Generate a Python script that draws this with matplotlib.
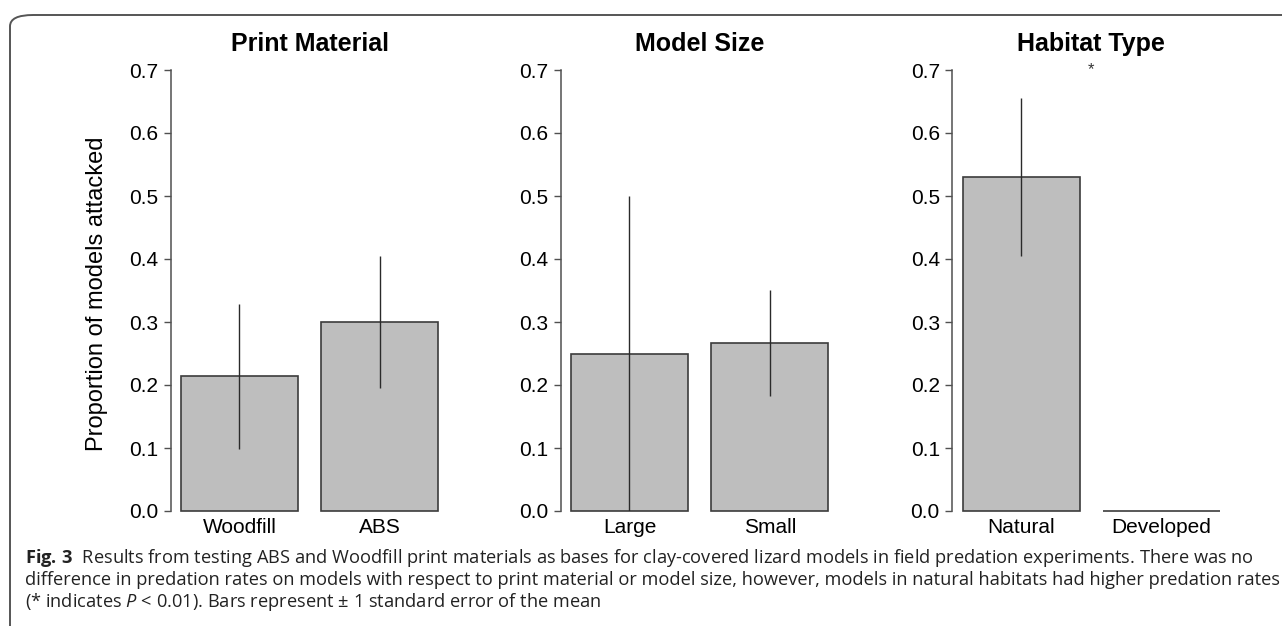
import matplotlib
matplotlib.use("Agg")
import matplotlib.pyplot as plt
from matplotlib import font_manager
from matplotlib.patches import FancyBboxPatch

# data
material_labels = ["Woodfill", "ABS"]
material_means = [0.214, 0.300]
material_se = [0.115, 0.105]

size_labels = ["Large", "Small"]
size_means = [0.250, 0.267]
size_se = [0.250, 0.084]

habitat_labels = ["Natural", "Developed"]
habitat_means = [0.530, 0.0]
habitat_se = [0.125, 0.0]

titles = ["Print Material", "Model Size", "Habitat Type"]
yticks = [0.0, 0.1, 0.2, 0.3, 0.4, 0.5, 0.6, 0.7]

caption_lines = [
    r"$\mathbf{Fig.\,3}$  Results from testing ABS and Woodfill print materials as bases for clay-covered lizard models in field predation experiments. There was no",
    "difference in predation rates on models with respect to print material or model size, however, models in natural habitats had higher predation rates",
    r"(* indicates $\mathit{P}$ < 0.01). Bars represent $\pm$ 1 standard error of the mean",
]

installed = {f.name for f in font_manager.fontManager.ttflist}
cap_font = "DejaVu Sans"
for name in ["Open Sans", "Noto Sans", "Lato"]:
    if name in installed:
        cap_font = name
        break

plt.rcParams["font.family"] = ["Liberation Sans", "DejaVu Sans"]
plt.rcParams["mathtext.fontset"] = "custom"
plt.rcParams["mathtext.rm"] = cap_font
plt.rcParams["mathtext.it"] = cap_font + ":italic"
plt.rcParams["mathtext.bf"] = cap_font + ":bold"

fig = plt.figure(figsize=(12.82, 6.26), dpi=100)
W, H = 1282, 626

# rounded frame around figure + caption (runs off right / bottom)
frame = FancyBboxPatch((10 / W, -0.2), 1.2, 1 - 15 / H + 0.2,
                       boxstyle="round,pad=0,rounding_size=0.018",
                       transform=fig.transFigure, fill=False,
                       edgecolor="#555555", linewidth=1.4, clip_on=False)
fig.patches.append(frame)

panels = [
    (material_labels, material_means, material_se),
    (size_labels, size_means, size_se),
    (habitat_labels, habitat_means, habitat_se),
]
lefts = [170.7, 560.7, 952.3]
ax_w = 278 / W
ax_bottom = 1 - 511 / H
ax_h = (511 - 70) / H

centers = [0.7, 1.9]
axes = []
for i, (labels, means, se) in enumerate(panels):
    ax = fig.add_axes([lefts[i] / W, ax_bottom, ax_w, ax_h])
    axes.append(ax)
    ax.bar(centers, means, width=1.0, color="#bebebe", edgecolor="#3c3c3c",
           linewidth=1.2, clip_on=False, zorder=2)
    for c, m, s in zip(centers, means, se):
        if s > 0:
            ax.vlines(c, m - s, m + s, color="#2a2a2a", linewidth=1.0, zorder=3)
    ax.set_xlim(0.112, 2.488)
    ax.set_ylim(0, 0.7)
    ax.set_xticks(centers)
    ax.set_xticklabels(labels)
    ax.set_yticks(yticks)
    ax.set_yticklabels([f"{v:.1f}" for v in yticks])
    for side in ["top", "right", "bottom"]:
        ax.spines[side].set_visible(False)
    ax.spines["left"].set_color("#505050")
    ax.spines["left"].set_linewidth(1.1)
    ax.tick_params(axis="y", length=5, width=1.0, color="#505050",
                   labelsize=15, pad=4, labelcolor="black")
    ax.tick_params(axis="x", length=0, labelsize=15, pad=5)
    ax.set_title(titles[i], fontsize=18, fontweight="bold", pad=14)
    ax.patch.set_visible(False)

axes[2].text(1.3, 0.7, "*", ha="center", va="center", fontsize=12, color="#333333")

fig.text(97 / W, 1 - 294 / H, "Proportion of models attacked", rotation=90,
         ha="center", va="center", fontsize=17)

# caption, sized so that the second line fills the reference width
renderer = fig.canvas.get_renderer()
probe = fig.text(0, 0, caption_lines[1], fontsize=12, family=cap_font)
width_px = probe.get_window_extent(renderer).width
probe.remove()
cap_size = 12 * (1272 - 25) / width_px

baselines = [563, 585, 607]
for line, yb in zip(caption_lines, baselines):
    fig.text(25 / W, 1 - yb / H, line, fontsize=cap_size, family=cap_font,
             color="#222222", ha="left", va="baseline")

fig.savefig("out.png", dpi=100)
